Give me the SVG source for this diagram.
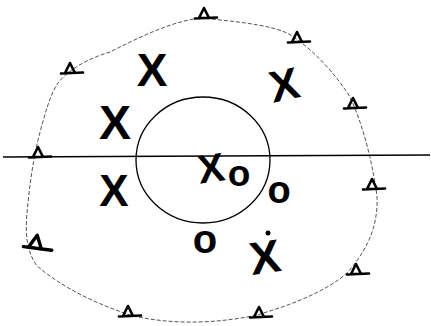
<svg xmlns="http://www.w3.org/2000/svg" xmlns:xlink="http://www.w3.org/1999/xlink" width="431" height="326" viewBox="0 0 431 326">
<style>
.mark{font-family:"Liberation Sans",Arial,sans-serif;font-weight:bold;fill:#000;text-anchor:middle}
.outer{fill:none;stroke:#555;stroke-width:1;stroke-dasharray:4 2}
.tri{fill:none;stroke:#000;stroke-width:2.6;stroke-linejoin:round;stroke-linecap:round}
</style>
<defs>
<g id="tri">
<path class="tri" d="M-5,0 L0,-10 L5,0 Z M-9,0.5 L13,-0.5"/>
</g>
</defs>
<rect width="431" height="326" fill="#fff"/>
<path id="outer-boundary" class="outer" d="M200,18 C230,21 267,24 287,33 C310,46 335,73 350,97 C363,125 372,160 377,196 C378,220 372,245 347,273 C330,288 300,303 253,316 C220,322 180,326 133,316 C100,305 67,291 37,266 C27,252 25,235 27,213 C29,190 33,160 38,140 C45,113 50,95 58,83 C70,68 90,58 110,52 C140,37 170,22 200,18 Z"/>
<path id="axis" d="M3,157 L430,155" fill="none" stroke="#000" stroke-width="1.6"/>
<ellipse id="inner-circle" cx="203" cy="160" rx="67" ry="63" fill="none" stroke="#000" stroke-width="1.3"/>
<g id="triangles">
<use xlink:href="#tri" transform="translate(204,18)"/>
<use xlink:href="#tri" transform="translate(297,42)"/>
<use xlink:href="#tri" transform="translate(353,108)"/>
<use xlink:href="#tri" transform="translate(38,157)"/>
<use xlink:href="#tri" transform="translate(70,73)"/>
<use xlink:href="#tri" transform="translate(372,189)"/>
<use xlink:href="#tri" transform="translate(35,248) rotate(10) scale(1.3)"/>
<use xlink:href="#tri" transform="translate(356,274)"/>
<use xlink:href="#tri" transform="translate(128,316)"/>
<use xlink:href="#tri" transform="translate(259,317)"/>
</g>
<g id="crosses">
<text class="mark" x="152" y="86" font-size="46">X</text>
<text class="mark" x="284" y="100" font-size="44" transform="rotate(-12 284 84)">X</text>
<text class="mark" x="115" y="139" font-size="48">X</text>
<text class="mark" x="114" y="206" font-size="44">X</text>
<text class="mark" x="211" y="182" font-size="40" transform="rotate(-8 211 168)">X</text>
<text class="mark" x="265" y="273" font-size="46" transform="rotate(-8 265 257)">X</text>
<circle cx="268" cy="233" r="2.5" fill="#000"/>
</g>
<g id="circles">
<text class="mark" x="239" y="186" font-size="37">o</text>
<text class="mark" x="279" y="203" font-size="38">o</text>
<text class="mark" x="205" y="253" font-size="40">o</text>
</g>
</svg>
